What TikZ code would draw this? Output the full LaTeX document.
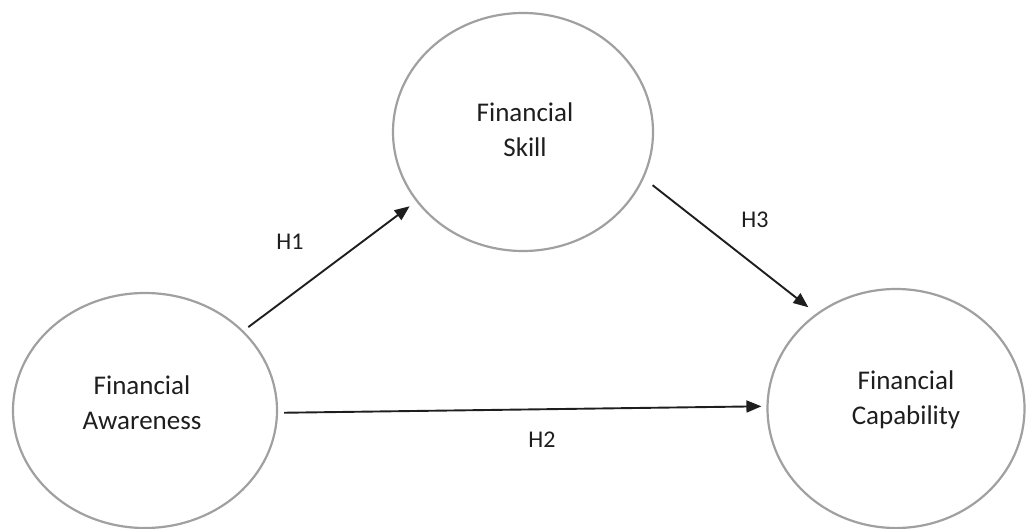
\documentclass[tikz,border=0pt]{standalone}
\usepackage{fontspec}
\setmainfont{Carlito}
\usetikzlibrary{shapes.geometric,arrows.meta}
\definecolor{rimgray}{RGB}{160,160,160}
\definecolor{inkdark}{RGB}{30,30,30}
\tikzset{
  construct/.style={ellipse, draw=rimgray, line width=2.2pt, inner sep=0pt},
  constructtext/.style={align=center, text=inkdark, font=\fontsize{27}{35}\selectfont, inner sep=0pt},
  pathlabel/.style={text=inkdark, font=\fontsize{24}{28}\selectfont, inner sep=0pt},
  hyparrow/.style={draw=inkdark, line width=1.9pt, -{Triangle[length=15pt,width=12pt]}}
}
\begin{document}
\begin{tikzpicture}[x=1pt,y=-1pt]
\useasboundingbox (0,0) rectangle (1027,529);
\node[construct, minimum width=264pt, minimum height=235pt] (aw) at (145,410.5) {};
\node[construct, minimum width=260pt, minimum height=238pt] (sk) at (523,132) {};
\node[construct, minimum width=257pt, minimum height=239pt] (ca) at (896,408.5) {};
\node[constructtext] (awt) at (142,403) {Financial\\Awareness};
\node[constructtext] (skt) at (525,130) {Financial\\Skill};
\node[constructtext] (cat) at (906,400) {Financial\\Capability};
\draw[hyparrow, shorten <=6pt, shorten >=8pt] (aw.39) -- (sk.213);
\draw[hyparrow, shorten <=6pt, shorten >=5pt] (aw.-1.5) -- (ca.179);
\draw[hyparrow, shorten <=11pt, shorten >=10pt] (sk.-21.4) -- (ca.130.6);
\node[pathlabel] (h1) at (290,242) {H1};
\node[pathlabel] (h2) at (542,440) {H2};
\node[pathlabel] (h3) at (755,220) {H3};
\end{tikzpicture}
\end{document}
